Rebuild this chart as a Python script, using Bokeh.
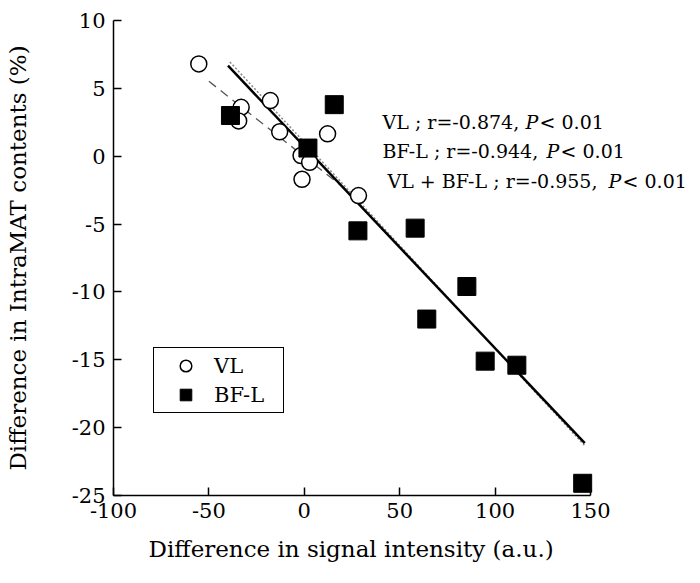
import numpy as np
from bokeh.plotting import figure
from bokeh.models import Legend, LegendItem, Label, Range1d, FixedTicker, Title
from bokeh.embed import file_html
from bokeh.resources import INLINE

# ---- data ----
vl_x = [-55.3, -33.1, -34.4, -17.8, -12.9, -1.7, 2.8, -1.2, 12.2, 28.4]
vl_y = [6.8, 3.6, 2.6, 4.1, 1.8, 0.05, -0.45, -1.7, 1.65, -2.9]

bf_x = [-38.7, 1.9, 15.7, 28.1, 58.1, 85.2, 64.2, 94.8, 111.4, 145.9]
bf_y = [3.0, 0.6, 3.8, -5.5, -5.3, -9.6, -12.0, -15.1, -15.4, -24.1]

# regression lines: (x start, x end, intercept, slope)
fit_vl = (-50.0, 31.0, -0.03, -0.111)
fit_bf = (-39.0, 147.0, 1.02, -0.152)
fit_all = (-40.0, 147.0, 0.72, -0.1487)

x_ticks = [-100, -50, 0, 50, 100, 150]
y_ticks = [-25, -20, -15, -10, -5, 0, 5, 10]

stats = [
    ("VL ; r=-0.874,", "P", "< 0.01"),
    ("BF-L ; r=-0.944,", "P", "< 0.01"),
    ("VL + BF-L ; r=-0.955,", "P", "< 0.01"),
]
# positions of the annotation pieces (data units)
stat_x = [(41.0, 115.9, 123.3), (41.0, 126.9, 134.3), (43.6, 159.4, 166.8)]
stat_y = [2.5, 0.35, -1.85]

FONT = "DejaVu Serif"

W, H = 692, 575
LEFT, TOP, BOTTOM = 113, 20, 80
FW, FH = W - LEFT, H - TOP - BOTTOM
x_lo, x_hi = -100, 150
x_view_hi = x_lo + (x_hi - x_lo) * FW / 477.0   # frame runs past the axis end

p = figure(frame_width=FW, frame_height=FH,
           min_border_left=LEFT, min_border_right=0,
           min_border_top=TOP, min_border_bottom=BOTTOM,
           x_range=Range1d(x_lo, x_view_hi), y_range=Range1d(-25, 10),
           output_backend="svg", toolbar_location=None,
           background_fill_color="white", border_fill_color="white")
p.outline_line_color = None
p.grid.visible = False

def fit_line(f):
    xs = np.array([f[0], f[1]])
    return xs, f[2] + f[3] * xs

xs, ys = fit_line(fit_vl)
p.line(xs, ys, line_color="#555555", line_width=1.3, line_dash="9 6")
xs, ys = fit_line(fit_bf)
p.line(xs, ys, line_color="#888888", line_width=1.5, line_dash="2 2")
xs, ys = fit_line(fit_all)
p.line(xs, ys, line_color="black", line_width=2.5)

r_vl = p.scatter(vl_x, vl_y, marker="circle", size=16, fill_color="white",
                 line_color="black", line_width=1.5)
r_bf = p.scatter(bf_x, bf_y, marker="square", size=18, fill_color="black",
                 line_color="black")

for ax in (p.xaxis[0], p.yaxis[0]):
    ax.major_tick_in = 8
    ax.major_tick_out = 0
    ax.minor_tick_in = 0
    ax.minor_tick_out = 0
    ax.axis_line_width = 1.5
    ax.major_tick_line_width = 1.5
    ax.major_label_text_font = FONT
    ax.major_label_text_font_size = "21px"
    ax.major_label_text_color = "black"
    ax.axis_label_text_font = FONT
    ax.axis_label_text_font_size = "23px"
    ax.axis_label_text_font_style = "normal"
    ax.axis_label_text_color = "black"

p.xaxis.ticker = FixedTicker(ticks=x_ticks)
p.yaxis.ticker = FixedTicker(ticks=y_ticks)
p.xaxis.bounds = (x_lo, x_hi)
p.xaxis.major_label_overrides = {t: str(t) for t in x_ticks}
p.yaxis.major_label_overrides = {t: str(t) for t in y_ticks}
p.xaxis.major_label_standoff = 7
p.yaxis.major_label_standoff = 8
p.yaxis.axis_label = "Difference in IntraMAT contents (%)"
p.yaxis.axis_label_standoff = 38

xtitle = Title(text="Difference in signal intensity (a.u.)", align="left",
               offset=35, standoff=26, text_font=FONT, text_font_size="23px",
               text_font_style="normal", text_color="black")
p.add_layout(xtitle, "below")

for (a, b, c), (xa, xb, xc), yy in zip(stats, stat_x, stat_y):
    for txt, xx, style in ((a, xa, "normal"), (b, xb, "italic"), (c, xc, "normal")):
        p.add_layout(Label(x=xx, y=yy, text=txt, text_font=FONT,
                           text_font_size="19px", text_font_style=style,
                           text_baseline="middle", text_align="left",
                           text_color="black"))

legend = Legend(items=[LegendItem(label="VL", renderers=[r_vl]),
                       LegendItem(label="BF-L", renderers=[r_bf])],
                location=(40, 82), orientation="vertical",
                glyph_width=57, glyph_height=29, label_standoff=0,
                label_width=66, padding=3, spacing=0, margin=0,
                label_text_font=FONT, label_text_font_size="21px",
                label_text_color="black",
                border_line_color="black", border_line_width=1.5,
                border_line_alpha=1.0,
                background_fill_color="white", background_fill_alpha=1.0)
p.add_layout(legend)

open("out.html", "w").write(file_html(p, INLINE))
